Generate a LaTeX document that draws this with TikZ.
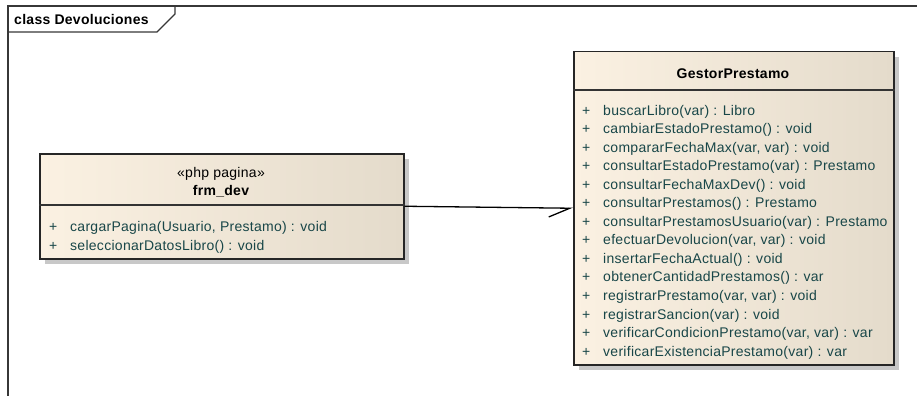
\documentclass[tikz,border=0pt]{standalone}
\usepackage{fontspec}
\setmainfont{Liberation Sans}
\newfontfamily\umlfont[LetterSpace=2]{Liberation Sans}
\usetikzlibrary{positioning,calc,arrows.meta,shadows}
\definecolor{EAFrame}{RGB}{55,55,55}
\definecolor{EACreamL}{RGB}{251,241,226}
\definecolor{EACreamR}{RGB}{228,219,203}
\definecolor{EATeal}{RGB}{24,70,72}
\definecolor{EAShadow}{RGB}{200,200,200}

\begin{document}
\begin{tikzpicture}[x=1pt, y=-1pt,
  frame/.style={draw=EAFrame, line width=1.4pt},
  classbox/.style={rectangle, draw=black!85, line width=1.5pt, left color=EACreamL, right color=EACreamR, anchor=north west, inner sep=0pt, drop shadow={shadow xshift=5pt, shadow yshift=-5pt, fill=EAShadow, opacity=1}},
  divider/.style={draw=black!80, line width=1.3pt},
  title/.style={font=\umlfont\fontsize{14}{16}\selectfont\bfseries, inner sep=0pt},
  stereo/.style={font=\umlfont\fontsize{14}{16}\selectfont, inner sep=0pt},
  op/.style={font=\umlfont\fontsize{14}{16}\selectfont, text=EATeal, inner sep=0pt, anchor=base west},
  assoc/.style={draw=black, line width=1.3pt, -{Straight Barb[right, length=21pt, width=18pt]}}
]
  \useasboundingbox (0,0) rectangle (917,396);

  % diagram frame
  \draw[frame] (917,6) -- (8,6) -- (8,396);
  \draw[frame] (8,32) -- (157,32) -- (175,14) -- (175,6);
  \node[title, anchor=base west] (frametitle) at (14,25) {class Devoluciones};

  % frm_dev
  \node[classbox, minimum width=364pt, minimum height=105pt] (frm) at (39,153) {};
  \draw[divider] ($(frm.north west)+(0,52)$) -- ($(frm.north east)+(0,52)$);
  \node[stereo, anchor=base] (frmstereo) at (221,177) {«php pagina»};
  \node[title, anchor=base] (frmname) at (221,195) {frm\_dev};
  \foreach \m [count=\i from 0] in {{cargarPagina(Usuario, Prestamo) : void},{seleccionarDatosLibro() : void}}
  {
    \node[op] (fplus\i) at (49,231+19*\i) {+};
    \node[op] (fop\i) at (70,231+19*\i) {\m};
  }

  % GestorPrestamo
  \node[classbox, minimum width=320pt, minimum height=313pt] (gestor) at (573,51) {};
  \draw[divider] ($(gestor.north west)+(0,39)$) -- ($(gestor.north east)+(0,39)$);
  \node[title, anchor=base] (gestorname) at (733,78) {GestorPrestamo};
  \foreach \m [count=\i from 0] in {{buscarLibro(var) : Libro},{cambiarEstadoPrestamo() : void},
    {compararFechaMax(var, var) : void},{consultarEstadoPrestamo(var) : Prestamo},
    {consultarFechaMaxDev() : void},{consultarPrestamos() : Prestamo},
    {consultarPrestamosUsuario(var) : Prestamo},{efectuarDevolucion(var, var) : void},
    {insertarFechaActual() : void},{obtenerCantidadPrestamos() : var},
    {registrarPrestamo(var, var) : void},{registrarSancion(var) : void},
    {verificarCondicionPrestamo(var, var) : var},{verificarExistenciaPrestamo(var) : var}}
  {
    \node[op] (gplus\i) at (582,115+18.55*\i) {+};
    \node[op] (gop\i) at (603,115+18.55*\i) {\m};
  }

  % association
  \draw[assoc] (frm.east) -- (gestor.west);
\end{tikzpicture}
\end{document}
